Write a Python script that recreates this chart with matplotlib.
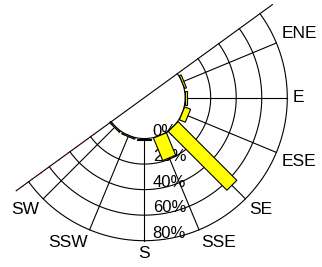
import numpy as np
import matplotlib
matplotlib.use('Agg')
from matplotlib import pyplot as plt
from matplotlib.patches import Polygon
from matplotlib.transforms import IdentityTransform

plt.rc('font', family='Liberation Sans')

# 风向 / 方位角 / 频率(%)
directions = ['ENE', 'E', 'ESE', 'SE', 'SSE', 'S', 'SSW', 'SW']
angles = [67.5, 90, 112.5, 135, 157.5, 180, 202.5, 225]
freq = [1.5, 1.5, 5, 65, 19, 1, 1, 1]
rings = [0, 20, 40, 60, 80]
ring_labels = ['0%', '20%', '40%', '60%', '80%']

sector = [54, 234]  # 画出来的半圆范围
r0 = -32            # 中间空洞

W, H = 322, 267
cx, cy, R = 144.3, 267 - 97.7, 143
fig = plt.figure(figsize=(W / 100, H / 100), dpi=100)
ax = fig.add_axes([(cx - R) / W, (cy - R) / H, 2 * R / W, 2 * R / H], projection='polar')
ax.set_theta_zero_location('N')
ax.set_theta_direction(-1)
ax.set_ylim(0, 80)
ax.set_rorigin(r0)
ax.grid(False)
ax.set_xticks([])
ax.set_yticks([])
for sp in ax.spines.values():
    sp.set_color('none')  # draw() 会重新打开 inner spine，所以直接设成透明
    sp.set_linewidth(0)
ax.set_facecolor('none')

# 网格: 圆弧 + 辐射线
th = np.deg2rad(np.linspace(sector[0], sector[1], 300))
for r in rings:
    ax.plot(th, [r] * len(th), color='black', lw=0.8, clip_on=False)
for a in angles:
    ax.plot([np.deg2rad(a)] * 2, [0, 80], color='black', lw=0.8, clip_on=False)

# 直径线
t0, t1 = np.deg2rad(sector)
ax.plot([t0, t0, t1], [92, r0, 92], color='black', lw=0.8, clip_on=False)
ax.plot([t1, t1], [16, 92], color='red', lw=1.2, ls=(0, (0.6, 6)), clip_on=False, zorder=3)

# 方向标签
for name, a in zip(directions, angles):
    m = np.deg2rad(90 - a)
    c, s = np.cos(m), np.sin(m)
    ha = 'left' if c > 0.3 else ('right' if c < -0.3 else 'center')
    va = 'bottom' if s > 0.3 else ('top' if s < -0.3 else 'center')
    ax.text(np.deg2rad(a), 84, name, ha=ha, va=va, fontsize=12.5, clip_on=False)

# 半径标签
for r, lab in zip(rings, ring_labels):
    ax.annotate(lab, xy=(np.pi, r), xytext=(6, 0), textcoords='offset points',
                ha='left', va='bottom', fontsize=12, zorder=3, annotation_clip=False)

# 柱子 (等宽矩形)
fig.canvas.draw()
T = ax.transData
for a, v in zip(angles, freq):
    t = np.deg2rad(a)
    c0 = T.transform((t, r0))
    p0 = T.transform((t, 0))
    p1 = T.transform((t, v))
    u = (p0 - c0) / np.hypot(*(p0 - c0))
    n = np.array([-u[1], u[0]]) * 7
    ax.add_patch(Polygon([p0 + n, p1 + n, p1 - n, p0 - n], closed=True,
                         transform=IdentityTransform(), facecolor='yellow',
                         edgecolor='black', lw=0.8, zorder=5, clip_on=False))

fig.savefig('out.png', dpi=100)
